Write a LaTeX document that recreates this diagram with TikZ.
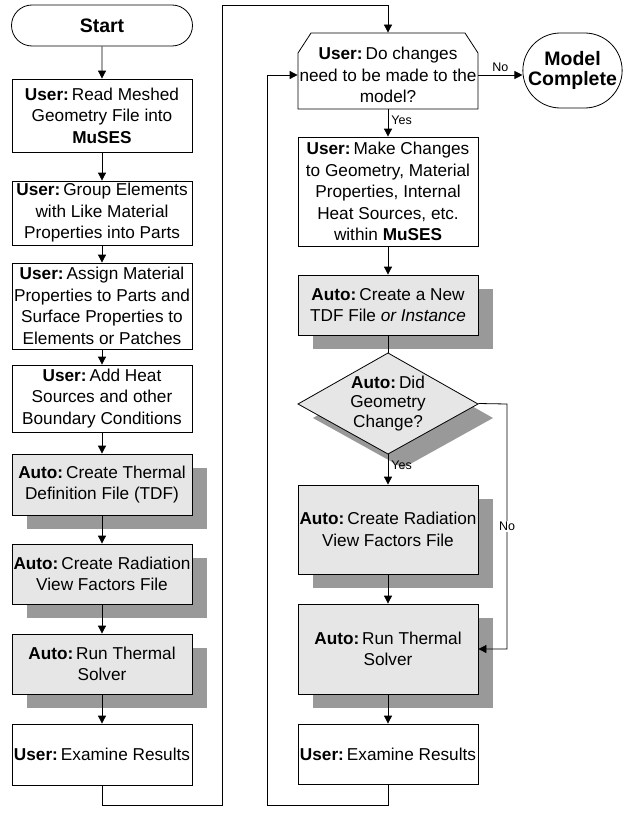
\documentclass[tikz,border=0pt]{standalone}
\usepackage{fontspec}
\setmainfont{Liberation Sans}
\usetikzlibrary{shapes.misc,arrows.meta,shadows}
\definecolor{boxgray}{RGB}{230,230,230}
\definecolor{shadowgray}{RGB}{153,153,153}
\newcommand{\userlbl}{\textbf{User:}\hspace{3pt}}
\newcommand{\autolbl}{\textbf{Auto:}\hspace{3pt}}
\begin{document}
\begin{tikzpicture}[x=1pt,y=-1pt, line width=0.8pt,
  txt/.style={font=\fontsize{17.2}{21.5}\selectfont, align=center, inner sep=0pt},
  proc/.style={txt, draw, fill=white, minimum width=180pt},
  autobox/.style={proc, fill=boxgray, drop shadow={shadow xshift=15pt, shadow yshift=-14pt, fill=shadowgray, opacity=1}},
  term/.style={draw, fill=white, rounded rectangle, font=\fontsize{19.5}{20}\selectfont\bfseries, align=center, inner sep=0pt},
  arr/.style={-{Triangle[length=8pt,width=8pt]}},
  lbl/.style={font=\fontsize{12.5}{14}\selectfont, inner sep=1pt},
]
\useasboundingbox (0,0) rectangle (627,816);

% left column
\node[term, minimum width=181pt, minimum height=41pt] (start) at (102,25.5) {Start};
\node[proc, minimum height=73pt] (b1) at (102,115.5) {\userlbl Read Meshed\\Geometry File into\\\textbf{MuSES}};
\node[proc, minimum height=64pt] (b2) at (102,213) {\userlbl Group Elements\\with Like Material\\Properties into Parts};
\node[proc, minimum height=86pt] (b3) at (102,306) {\userlbl Assign Material\\Properties to Parts and\\Surface Properties to\\Elements or Patches};
\node[proc, minimum height=67pt] (b4) at (102,398.5) {\userlbl Add Heat\\Sources and other\\Boundary Conditions};
\node[autobox, minimum height=61pt] (b5) at (102,484.5) {\autolbl Create Thermal\\Definition File (TDF)};
\node[autobox, minimum height=60pt] (b6) at (102,574) {\autolbl Create Radiation\\View Factors File};
\node[autobox, minimum height=60pt] (b7) at (102,664) {\autolbl Run Thermal\\Solver};
\node[proc, minimum height=61pt] (b8) at (102,754.5) {\userlbl Examine Results};

% right column
\filldraw[fill=white] (298,53) -- (311,33) -- (465,33) -- (478,53) -- (478,109) -- (298,109) -- cycle;
\node[txt, minimum width=180pt, minimum height=76pt] (q1) at (388,71) {};
\node[txt, minimum width=180pt, minimum height=68pt] (q1t) at (388,75) {\userlbl Do changes\\need to be made to the\\model?};
\node[term, minimum width=99pt, minimum height=75pt] (mc) at (572.5,70.5) {Model\\Complete};
\node[proc, minimum height=109pt] (r1) at (388,191.5) {\userlbl Make Changes\\to Geometry, Material\\Properties, Internal\\Heat Sources, etc.\\within \textbf{MuSES}};
\node[autobox, minimum height=60pt] (r2) at (388,305) {\autolbl Create a New\\TDF File \textit{or Instance}};

\fill[shadowgray] (403,367) -- (493,418) -- (403,468) -- (313,418) -- cycle;
\filldraw[fill=boxgray] (388,353) -- (478,404) -- (388,454) -- (298,404) -- cycle;
\node[txt, font=\fontsize{17.2}{19.5}\selectfont, minimum width=180pt, minimum height=101pt] (d) at (388,403.5) {\autolbl Did\\Geometry\\Change?};

\node[autobox, minimum height=89pt] (r3) at (388,529.5) {\autolbl Create Radiation\\View Factors File};
\node[autobox, minimum height=90pt] (r4) at (388,649) {\autolbl Run Thermal\\Solver};
\node[proc, minimum height=60pt] (r5) at (388,754) {\userlbl Examine Results};

% connectors
\foreach \a/\b in {start/b1,b1/b2,b2/b3,b3/b4,b4/b5,b5/b6,b6/b7,b7/b8}
  \draw[arr] (\a) -- (\b);
\coordinate (c1) at (222,805);
\coordinate (c2) at (222,5);
\draw[arr] (b8.south) |- (c1) -- (c2) -| (q1.north);
\draw[arr] (q1t.east) -- node[lbl, above=2pt]{No} (q1t.east -| mc.west);
\draw[arr] (q1.south) -- node[lbl, right=2pt, pos=.4]{Yes} (r1.north);
\draw[arr] (r1) -- (r2);
\draw (r2) -- (d.north);
\draw[arr] (d.south) -- node[lbl, right=2pt, pos=.35]{Yes} (r3.north);
\coordinate (c5) at (507,404);
\draw[arr] (d.east) -- (c5) |- node[lbl, fill=white, pos=.25]{No} (r4.east);
\draw[arr] (r3) -- (r4);
\draw[arr] (r4) -- (r5);
\coordinate (c3) at (267,805);
\draw[arr] (r5.south) |- (c3) |- (q1t.west);
\end{tikzpicture}
\end{document}
